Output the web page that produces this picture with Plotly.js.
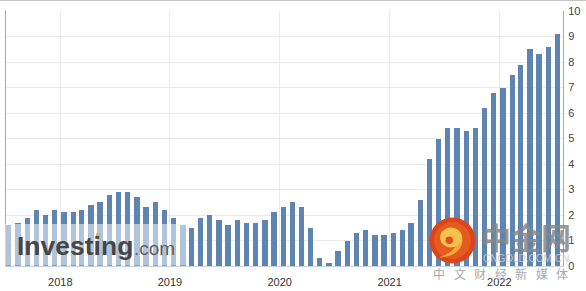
<!DOCTYPE html>
<html><head><meta charset="utf-8">
<script src="https://cdn.plot.ly/plotly-3.0.1.min.js"></script>
<style>html,body{margin:0;padding:0;background:#fff;overflow:hidden}#chart{width:586px;height:291px;}</style>
</head><body><div id="chart"></div>
<script>
// Release dates of the monthly figures (bars sit at release dates)
const releaseDates = [
  "2017-07-13","2017-08-13","2017-09-13","2017-10-13","2017-11-13","2017-12-13",
  "2018-01-13","2018-02-13","2018-03-13","2018-04-13","2018-05-13","2018-06-13",
  "2018-07-13","2018-08-13","2018-09-13","2018-10-13","2018-11-13","2018-12-13",
  "2019-01-13","2019-02-13","2019-03-13","2019-04-13","2019-05-13","2019-06-13",
  "2019-07-13","2019-08-13","2019-09-13","2019-10-13","2019-11-13","2019-12-13",
  "2020-01-13","2020-02-13","2020-03-13","2020-04-13","2020-05-13","2020-06-13",
  "2020-07-13","2020-08-13","2020-09-13","2020-10-13","2020-11-13","2020-12-13",
  "2021-01-13","2021-02-13","2021-03-13","2021-04-13","2021-05-13","2021-06-13",
  "2021-07-13","2021-08-13","2021-09-13","2021-10-13","2021-11-13","2021-12-13",
  "2022-01-13","2022-02-13","2022-03-13","2022-04-13","2022-05-13","2022-06-13",
  "2022-07-13"
];
const cpiYoY = [
  1.6,1.7,1.9,2.2,2.0,2.2,
  2.1,2.1,2.2,2.4,2.5,2.8,
  2.9,2.9,2.7,2.3,2.5,2.2,
  1.9,1.6,1.5,1.9,2.0,1.8,
  1.6,1.8,1.7,1.7,1.8,2.1,
  2.3,2.5,2.3,1.5,0.3,0.1,
  0.6,1.0,1.3,1.4,1.2,1.2,
  1.3,1.4,1.7,2.6,4.2,5.0,
  5.4,5.4,5.3,5.4,6.2,6.8,
  7.0,7.5,7.9,8.5,8.3,8.6,
  9.1
];
const yearTickDates = ["2018-01-01","2019-01-01","2020-01-01","2021-01-01","2022-01-01"];
const yearTickLabels = ["2018","2019","2020","2021","2022"];
const yTickValues = [0,1,2,3,4,5,6,7,8,9,10];
const yTickLabels = ["0","1","2","3","4","5","6","7","8","9","10"];
const cnTagline = ["中","文","财","经","新","媒","体"];

const W=586,H=291,L=5,R=23,T=11,B=25;
const PW=W-L-R, PH=H-T-B;
const X = px => (px-L)/PW;
const Y = py => (H-B-py)/PH;
const DAY = 86400000;

const trace = {
  type:'bar', x: releaseDates, y: cpiYoY,
  width: releaseDates.map(()=>18*DAY),
  marker:{color:'rgb(94,133,178)', line:{width:0}},
  hoverinfo:'skip'
};

function ann(text, cx, cy, size, color, family, extra){
  return Object.assign({text, xref:'paper', yref:'paper', x:X(cx), y:Y(cy),
    xanchor:'center', yanchor:'middle', showarrow:false, borderpad:0,
    font:{size, color, family}}, extra||{});
}

const annotations = [
  ann('<b>Investing</b>', 75, 246, 26.5, '#464646', 'Liberation Sans, Arial, sans-serif'),
  ann('.com', 133, 248.5, 19, '#5e5e5e', 'Liberation Sans, Arial, sans-serif', {xanchor:'left', x:X(132.5)}),
  ann('<b>中金网</b>', 526, 235.5, 30, 'rgba(135,135,135,0.85)', 'Noto Sans CJK SC, sans-serif'),
  ann('CNGOLD.COM.CN', 526, 258, 10, 'rgba(200,200,200,0.95)', 'Liberation Sans, Arial, sans-serif')
];
const tagStart = 439, tagPitch = 20.5;
cnTagline.forEach((ch,i)=>annotations.push(ann(ch, tagStart+i*tagPitch, 273, 12, '#aaaaaa', 'Noto Sans CJK SC, sans-serif')));

const shapes = [
  // top frame line
  {type:'line', xref:'paper', yref:'paper', x0:X(0), x1:X(586), y0:Y(0.5), y1:Y(0.5), line:{color:'#c4c4c4', width:1}, layer:'above'},
  // left border
  {type:'line', xref:'paper', yref:'paper', x0:X(5.5), x1:X(5.5), y0:Y(10.5), y1:Y(266), line:{color:'#a8a8a8', width:1}, layer:'above'},
  // Investing watermark veil
  {type:'rect', xref:'paper', yref:'paper', x0:X(5), x1:X(187.5), y0:Y(265.5), y1:Y(224), fillcolor:'rgba(255,255,255,0.52)', line:{width:0}, layer:'above'},
  // orange dot of the logo
  {type:'path', xref:'paper', yref:'paper', layer:'above', fillcolor:'#f2a53a', line:{width:0},
    path:`M ${X(95.5)} ${Y(238.5)} L ${X(99.5)} ${Y(238.5)} L ${X(100.5)} ${Y(233.3)} L ${X(96.3)} ${Y(233.3)} Z`},
  // cngold round logo
  {type:'circle', xref:'paper', yref:'paper', layer:'above', x0:X(429.5), x1:X(475.5), y0:Y(263.5), y1:Y(217.5), fillcolor:'#dc4419', line:{width:0}},
  {type:'circle', xref:'paper', yref:'paper', layer:'above', x0:X(434), x1:X(471), y0:Y(259), y1:Y(222), fillcolor:'#e55a1e', line:{width:0}},
  // swirl tail
  {type:'path', xref:'paper', yref:'paper', layer:'above', fillcolor:'#f5a93c', line:{width:0},
    path:`M ${X(462)} ${Y(236)} C ${X(465)} ${Y(248)} ${X(454)} ${Y(257.5)} ${X(439)} ${Y(257.5)} C ${X(449)} ${Y(254)} ${X(456)} ${Y(249)} ${X(457)} ${Y(242)} Z`},
  // swirl head
  {type:'circle', xref:'paper', yref:'paper', layer:'above', x0:X(440), x1:X(462), y0:Y(247.5), y1:Y(227.5), fillcolor:'#f8c24a', line:{width:0}},
  {type:'circle', xref:'paper', yref:'paper', layer:'above', x0:X(445.5), x1:X(453), y0:Y(244), y1:Y(236.5), fillcolor:'#e04f1c', line:{width:0}}
];

const layout = {
  width:W, height:H, margin:{l:L, r:R, t:T, b:B, pad:0},
  paper_bgcolor:'#ffffff', plot_bgcolor:'#ffffff',
  showlegend:false, bargap:0,
  font:{family:'Liberation Sans, Arial, sans-serif', size:11, color:'#333'},
  xaxis:{type:'date', range:['2017-07-01','2022-08-01'], tickmode:'array',
    tickvals:yearTickDates, ticktext:yearTickLabels, showgrid:true, gridcolor:'#ebebeb', gridwidth:1,
    showline:true, linecolor:'#c5d2e0', linewidth:1, ticks:'', zeroline:false, ticklabelstandoff:6,
    tickfont:{size:11, color:'#333'}, fixedrange:true},
  yaxis:{range:[0,10], side:'right', tickmode:'array', tickvals:yTickValues, ticktext:yTickLabels,
    showgrid:true, gridcolor:'#ebebeb', gridwidth:1, zeroline:false, ticklabelstandoff:2,
    showline:true, linecolor:'#a8a8a8', linewidth:1, ticks:'',
    tickfont:{size:11, color:'#444'}, fixedrange:true},
  shapes, annotations
};
Plotly.newPlot('chart', [trace], layout, {displayModeBar:false, staticPlot:true});
</script></body></html>
